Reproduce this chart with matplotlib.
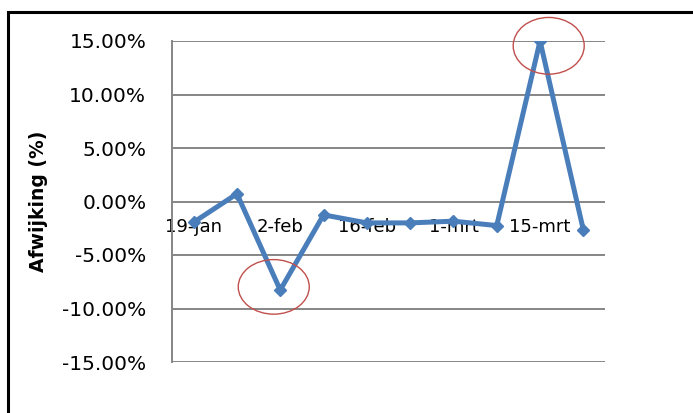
import matplotlib
matplotlib.use("Agg")
import matplotlib.pyplot as plt
from matplotlib.patches import Ellipse, Rectangle
from matplotlib.ticker import FuncFormatter

# weekly deviation (%)
weeks = ["19-jan", "26-jan", "2-feb", "9-feb", "16-feb", "23-feb",
         "1-mrt", "8-mrt", "15-mrt", "22-mrt"]
afwijking = [-1.94, 0.72, -8.28, -1.25, -2.0, -2.0, -1.84, -2.25, 15.0, -2.66]
highlight = [2, 8]  # circled weeks

fig = plt.figure(figsize=(6.93, 4.13), dpi=100)
ax = fig.add_axes([172 / 693, 1 - 362 / 413, 433 / 693, 321 / 413])

x = list(range(len(weeks)))
ax.plot(x, afwijking, color="#4A7EBB", linewidth=3.6, marker="D",
        markersize=6.5, zorder=3)

ax.set_xlim(-0.5, len(weeks) - 0.5)
ax.set_ylim(-15, 15)
ax.set_yticks([-15, -10, -5, 0, 5, 10, 15])
ax.yaxis.set_major_formatter(FuncFormatter(lambda v, p: f"{v:.2f}%"))
ax.grid(axis="y", color="#868686", linewidth=1.4)
ax.set_axisbelow(True)

ax.set_xticks(x[::2])
ax.set_xticklabels(weeks[::2])
ax.spines["bottom"].set_position(("data", 0))
ax.spines["bottom"].set_visible(False)
for s in ["top", "right"]:
    ax.spines[s].set_visible(False)
ax.spines["left"].set_color("#868686")
ax.spines["left"].set_linewidth(1.4)
ax.tick_params(axis="x", length=0, pad=12, labelsize=13)
ax.tick_params(axis="y", length=0, pad=18.5, labelsize=14.5)
for t in ax.get_xticklabels():
    t.set_zorder(4)

ax.set_ylabel("Afwijking (%)", fontsize=13.5, fontweight="bold", labelpad=10)

# red circles around outliers
offsets = [(-0.15, 0.3, 5.1), (0.2, -0.45, 5.3)]
for i, (dx, dy, h) in zip(highlight, offsets):
    ax.add_patch(Ellipse((i + dx, afwijking[i] + dy), 1.64, h, fill=False,
                         edgecolor="#C0504D", linewidth=1.0, zorder=5,
                         clip_on=False))

# outer frame (cut off at right and bottom like the original)
fig.patches.append(Rectangle((8 / 693, -0.1), 1.1, 1 - 12 / 413 + 0.1,
                             transform=fig.transFigure, fill=False,
                             edgecolor="black", linewidth=2.2))

fig.savefig("out.png", dpi=100)
